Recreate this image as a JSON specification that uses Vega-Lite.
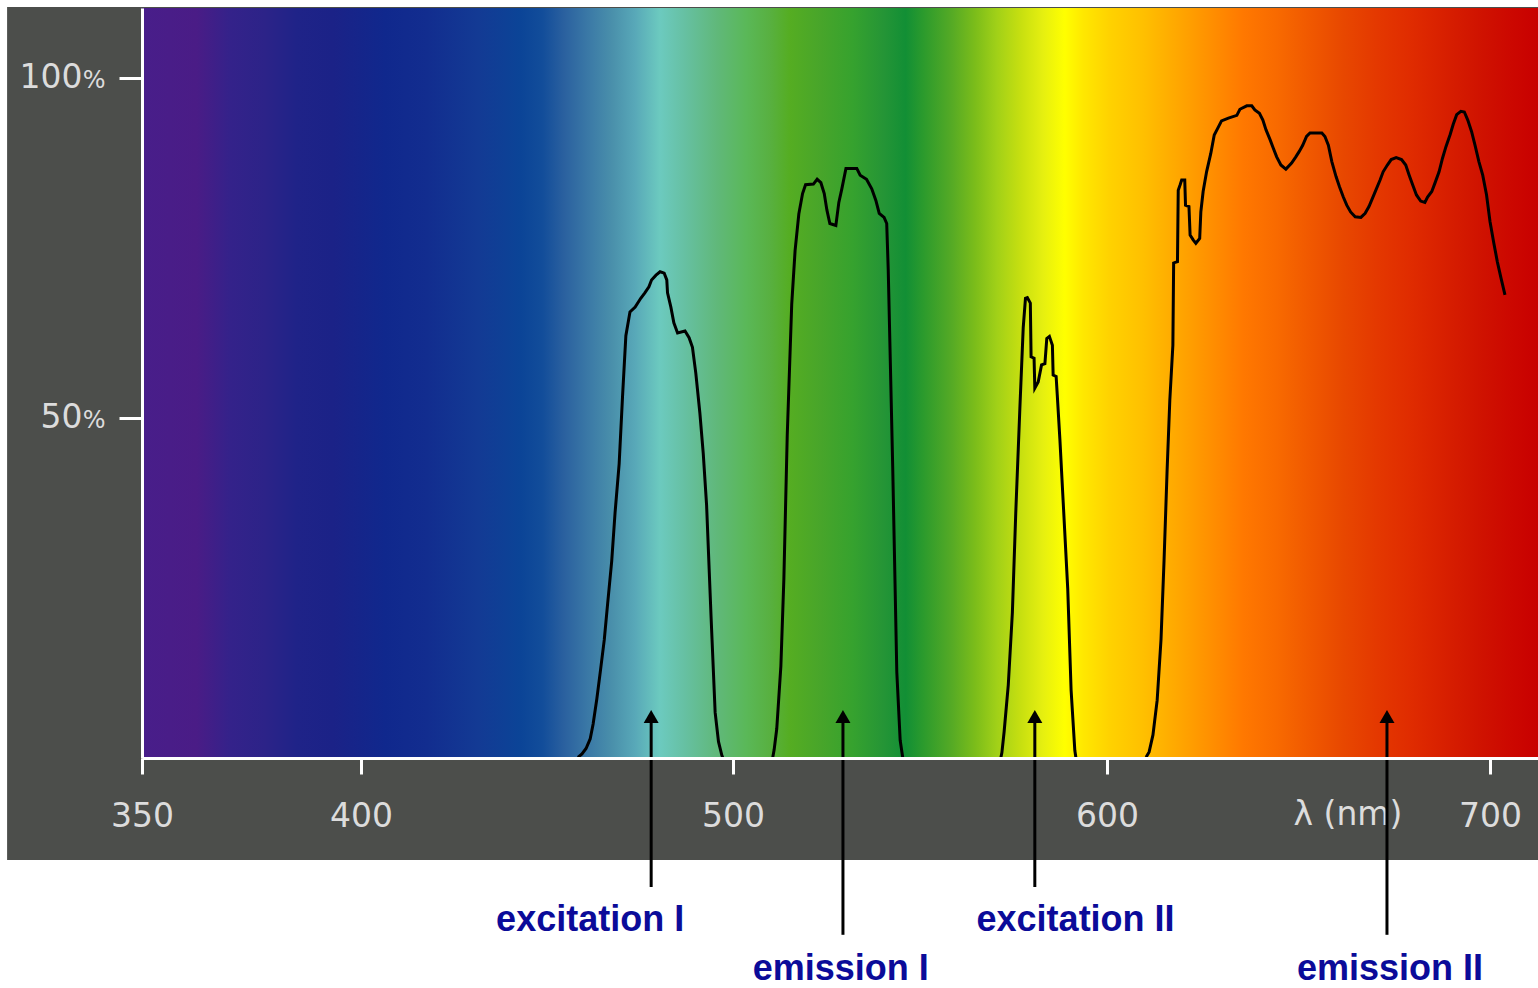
{
  "$schema": "https://vega.github.io/schema/vega-lite/v6.json",
  "width": 1396,
  "height": 750,
  "autosize": {"type": "none"},
  "padding": {"left": 142, "top": 8, "right": 0, "bottom": 230},
  "background": "white",
  "config": {
    "view": {"stroke": null},
    "axis": {"grid": false, "domainColor": "white", "domainWidth": 3, "tickColor": "white", "tickWidth": 3, "labelFont": "DejaVu Sans", "labelFontSize": 33, "labelColor": "#dcdcdc", "labelBaseline": "alphabetic"},
    "axisX": {"tickSize": 16, "labelPadding": 52, "labelFlush": false, "labelOverlap": false},
    "axisY": {"tickSize": 23, "labelOffset": 10, "labelPadding": 37, "labelAlign": "right"}
  },
  "datasets": {
    "curves": [
      {"series":"excitation I","wl":458.3,"pct":0.1},{"series":"excitation I","wl":459.4,"pct":0.6},{"series":"excitation I","wl":460.5,"pct":1.4},{"series":"excitation I","wl":461.6,"pct":2.8},{"series":"excitation I","wl":462.4,"pct":5.0},{"series":"excitation I","wl":463.4,"pct":8.7},{"series":"excitation I","wl":464.4,"pct":13.0},{"series":"excitation I","wl":465.4,"pct":17.4},{"series":"excitation I","wl":466.3,"pct":22.7},{"series":"excitation I","wl":467.4,"pct":29.0},{"series":"excitation I","wl":468.3,"pct":36.1},{"series":"excitation I","wl":469.4,"pct":43.3},{"series":"excitation I","wl":470.3,"pct":53.1},{"series":"excitation I","wl":471.2,"pct":62.1},{"series":"excitation I","wl":472.3,"pct":65.6},{"series":"excitation I","wl":473.7,"pct":66.3},{"series":"excitation I","wl":475.2,"pct":67.6},{"series":"excitation I","wl":476.3,"pct":68.4},{"series":"excitation I","wl":477.4,"pct":69.3},{"series":"excitation I","wl":478.1,"pct":70.3},{"series":"excitation I","wl":479.3,"pct":71.0},{"series":"excitation I","wl":480.4,"pct":71.5},{"series":"excitation I","wl":481.5,"pct":71.3},{"series":"excitation I","wl":482.2,"pct":70.3},{"series":"excitation I","wl":482.4,"pct":68.4},{"series":"excitation I","wl":483.3,"pct":66.3},{"series":"excitation I","wl":484.1,"pct":64.0},{"series":"excitation I","wl":485.1,"pct":62.5},{"series":"excitation I","wl":487.1,"pct":62.8},{"series":"excitation I","wl":488.2,"pct":61.8},{"series":"excitation I","wl":489.1,"pct":60.4},{"series":"excitation I","wl":490.0,"pct":56.6},{"series":"excitation I","wl":491.1,"pct":50.7},{"series":"excitation I","wl":492.0,"pct":44.8},{"series":"excitation I","wl":492.9,"pct":37.2},{"series":"excitation I","wl":494.1,"pct":20.8},{"series":"excitation I","wl":495.2,"pct":6.7},{"series":"excitation I","wl":496.1,"pct":2.4},{"series":"excitation I","wl":497.0,"pct":0.4},{"series":"excitation I","wl":497.3,"pct":0.0},
      {"series":"emission I","wl":510.6,"pct":0.0},{"series":"emission I","wl":511.0,"pct":1.2},{"series":"emission I","wl":511.7,"pct":4.3},{"series":"emission I","wl":512.8,"pct":13.5},{"series":"emission I","wl":513.6,"pct":26.3},{"series":"emission I","wl":514.5,"pct":47.4},{"series":"emission I","wl":515.7,"pct":66.7},{"series":"emission I","wl":516.6,"pct":74.6},{"series":"emission I","wl":517.6,"pct":80.0},{"series":"emission I","wl":518.6,"pct":83.0},{"series":"emission I","wl":519.4,"pct":84.3},{"series":"emission I","wl":521.5,"pct":84.4},{"series":"emission I","wl":522.5,"pct":85.1},{"series":"emission I","wl":523.5,"pct":84.6},{"series":"emission I","wl":524.4,"pct":83.0},{"series":"emission I","wl":525.1,"pct":80.6},{"series":"emission I","wl":525.9,"pct":78.6},{"series":"emission I","wl":527.5,"pct":78.3},{"series":"emission I","wl":528.3,"pct":81.7},{"series":"emission I","wl":529.1,"pct":83.7},{"series":"emission I","wl":530.2,"pct":86.7},{"series":"emission I","wl":533.1,"pct":86.7},{"series":"emission I","wl":534.0,"pct":85.7},{"series":"emission I","wl":535.7,"pct":85.1},{"series":"emission I","wl":537.1,"pct":83.7},{"series":"emission I","wl":538.2,"pct":82.0},{"series":"emission I","wl":539.1,"pct":80.1},{"series":"emission I","wl":540.4,"pct":79.5},{"series":"emission I","wl":541.1,"pct":78.6},{"series":"emission I","wl":541.5,"pct":71.9},{"series":"emission I","wl":542.7,"pct":42.9},{"series":"emission I","wl":543.8,"pct":12.6},{"series":"emission I","wl":544.7,"pct":2.6},{"series":"emission I","wl":545.4,"pct":0.0},
      {"series":"excitation II","wl":571.6,"pct":0.0},{"series":"excitation II","wl":571.9,"pct":0.8},{"series":"excitation II","wl":572.5,"pct":3.9},{"series":"excitation II","wl":573.6,"pct":10.7},{"series":"excitation II","wl":574.7,"pct":21.4},{"series":"excitation II","wl":575.6,"pct":36.0},{"series":"excitation II","wl":576.7,"pct":51.4},{"series":"excitation II","wl":577.6,"pct":63.3},{"series":"excitation II","wl":578.2,"pct":67.6},{"series":"excitation II","wl":578.7,"pct":67.7},{"series":"excitation II","wl":579.5,"pct":66.9},{"series":"excitation II","wl":579.7,"pct":59.0},{"series":"excitation II","wl":580.5,"pct":58.8},{"series":"excitation II","wl":580.7,"pct":54.4},{"series":"excitation II","wl":581.6,"pct":55.3},{"series":"excitation II","wl":582.5,"pct":57.8},{"series":"excitation II","wl":583.4,"pct":58.0},{"series":"excitation II","wl":583.9,"pct":61.7},{"series":"excitation II","wl":584.6,"pct":62.0},{"series":"excitation II","wl":585.4,"pct":60.7},{"series":"excitation II","wl":585.6,"pct":56.3},{"series":"excitation II","wl":586.4,"pct":56.1},{"series":"excitation II","wl":586.7,"pct":53.4},{"series":"excitation II","wl":587.4,"pct":46.9},{"series":"excitation II","wl":588.3,"pct":37.5},{"series":"excitation II","wl":589.5,"pct":24.9},{"series":"excitation II","wl":590.4,"pct":10.0},{"series":"excitation II","wl":591.4,"pct":1.1},{"series":"excitation II","wl":591.7,"pct":0.0},
      {"series":"emission II","wl":610.2,"pct":0.1},{"series":"emission II","wl":611.0,"pct":0.9},{"series":"emission II","wl":612.0,"pct":3.4},{"series":"emission II","wl":613.1,"pct":8.5},{"series":"emission II","wl":614.1,"pct":17.4},{"series":"emission II","wl":614.9,"pct":29.1},{"series":"emission II","wl":615.7,"pct":42.4},{"series":"emission II","wl":616.4,"pct":52.6},{"series":"emission II","wl":617.2,"pct":60.7},{"series":"emission II","wl":617.4,"pct":72.8},{"series":"emission II","wl":618.4,"pct":73.0},{"series":"emission II","wl":618.6,"pct":83.5},{"series":"emission II","wl":619.1,"pct":84.3},{"series":"emission II","wl":619.5,"pct":85.0},{"series":"emission II","wl":620.3,"pct":85.0},{"series":"emission II","wl":620.5,"pct":81.3},{"series":"emission II","wl":621.4,"pct":81.1},{"series":"emission II","wl":621.7,"pct":76.9},{"series":"emission II","wl":622.5,"pct":76.2},{"series":"emission II","wl":623.2,"pct":75.7},{"series":"emission II","wl":624.2,"pct":76.4},{"series":"emission II","wl":624.5,"pct":80.3},{"series":"emission II","wl":625.1,"pct":83.3},{"series":"emission II","wl":626.0,"pct":86.2},{"series":"emission II","wl":627.1,"pct":88.9},{"series":"emission II","wl":628.0,"pct":91.6},{"series":"emission II","wl":629.1,"pct":92.8},{"series":"emission II","wl":629.9,"pct":93.7},{"series":"emission II","wl":631.7,"pct":94.1},{"series":"emission II","wl":633.9,"pct":94.5},{"series":"emission II","wl":634.7,"pct":95.4},{"series":"emission II","wl":636.5,"pct":95.9},{"series":"emission II","wl":637.8,"pct":95.9},{"series":"emission II","wl":638.6,"pct":95.3},{"series":"emission II","wl":639.8,"pct":94.8},{"series":"emission II","wl":640.7,"pct":93.8},{"series":"emission II","wl":641.5,"pct":92.4},{"series":"emission II","wl":642.6,"pct":90.9},{"series":"emission II","wl":643.4,"pct":89.7},{"series":"emission II","wl":644.3,"pct":88.4},{"series":"emission II","wl":645.4,"pct":87.2},{"series":"emission II","wl":646.7,"pct":86.6},{"series":"emission II","wl":648.2,"pct":87.5},{"series":"emission II","wl":649.3,"pct":88.4},{"series":"emission II","wl":650.2,"pct":89.2},{"series":"emission II","wl":651.1,"pct":90.1},{"series":"emission II","wl":652.1,"pct":91.4},{"series":"emission II","wl":653.0,"pct":91.9},{"series":"emission II","wl":656.1,"pct":91.9},{"series":"emission II","wl":656.9,"pct":91.4},{"series":"emission II","wl":657.8,"pct":90.1},{"series":"emission II","wl":658.7,"pct":87.7},{"series":"emission II","wl":659.8,"pct":85.5},{"series":"emission II","wl":660.7,"pct":84.0},{"series":"emission II","wl":661.7,"pct":82.5},{"series":"emission II","wl":662.6,"pct":81.3},{"series":"emission II","wl":663.6,"pct":80.3},{"series":"emission II","wl":664.8,"pct":79.6},{"series":"emission II","wl":666.3,"pct":79.5},{"series":"emission II","wl":667.4,"pct":80.1},{"series":"emission II","wl":668.4,"pct":81.1},{"series":"emission II","wl":669.3,"pct":82.3},{"series":"emission II","wl":670.2,"pct":83.5},{"series":"emission II","wl":671.3,"pct":85.0},{"series":"emission II","wl":672.1,"pct":86.2},{"series":"emission II","wl":673.2,"pct":87.2},{"series":"emission II","wl":674.2,"pct":88.0},{"series":"emission II","wl":675.5,"pct":88.3},{"series":"emission II","wl":676.9,"pct":88.0},{"series":"emission II","wl":678.0,"pct":87.2},{"series":"emission II","wl":678.9,"pct":85.7},{"series":"emission II","wl":679.8,"pct":84.3},{"series":"emission II","wl":680.8,"pct":82.8},{"series":"emission II","wl":681.9,"pct":81.9},{"series":"emission II","wl":683.0,"pct":81.7},{"series":"emission II","wl":683.7,"pct":82.5},{"series":"emission II","wl":684.8,"pct":83.3},{"series":"emission II","wl":685.6,"pct":84.5},{"series":"emission II","wl":686.7,"pct":86.2},{"series":"emission II","wl":687.6,"pct":88.2},{"series":"emission II","wl":688.5,"pct":89.9},{"series":"emission II","wl":689.6,"pct":91.7},{"series":"emission II","wl":690.4,"pct":93.2},{"series":"emission II","wl":691.3,"pct":94.6},{"series":"emission II","wl":692.4,"pct":95.1},{"series":"emission II","wl":693.3,"pct":95.0},{"series":"emission II","wl":694.2,"pct":93.8},{"series":"emission II","wl":695.2,"pct":92.1},{"series":"emission II","wl":696.1,"pct":90.1},{"series":"emission II","wl":697.1,"pct":87.7},{"series":"emission II","wl":698.1,"pct":85.7},{"series":"emission II","wl":699.1,"pct":82.8},{"series":"emission II","wl":700.0,"pct":78.9},{"series":"emission II","wl":701.0,"pct":75.7},{"series":"emission II","wl":701.9,"pct":73.0},{"series":"emission II","wl":702.9,"pct":70.5},{"series":"emission II","wl":703.9,"pct":68.1}
    ],
    "filters": [
      {"name": "excitation I", "wl": 478.0, "labelWl": 461.6, "kind": "excitation"},
      {"name": "emission I", "wl": 529.4, "labelWl": 528.8, "kind": "emission"},
      {"name": "excitation II", "wl": 580.7, "labelWl": 591.6, "kind": "excitation"},
      {"name": "emission II", "wl": 673.1, "labelWl": 673.9, "kind": "emission"}
    ],
    "ticks": [{"pct": 50}, {"pct": 100}]
  },
  "layer": [
    {
      "data": {"values": [{}]},
      "mark": {"type": "rect", "fill": "#4c4e4b"},
      "encoding": {
        "x": {"datum": 319.2, "type": "quantitative", "title": null, "scale": {"domain": [350, 400, 500, 600, 700, 712.5], "range": [0, 219, 591, 965, 1348, 1396], "nice": false, "zero": false}, "axis": {"title": null, "orient": "bottom", "values": [350, 400, 500, 600, 700], "format": "d", "zindex": 2}},
        "x2": {"datum": 712.5},
        "y": {"datum": 110.45, "type": "quantitative", "title": null, "scale": {"domain": [0, 110.29], "nice": false, "zero": false}, "axis": {"title": null, "orient": "left", "values": [50, 100], "format": "d", "zindex": 2}},
        "y2": {"datum": -15.0}
      }
    },
    {
      "data": {"values": [{}]},
      "mark": {
        "type": "rect",
        "fill": {
          "gradient": "linear", "x1": 0, "y1": 0, "x2": 1, "y2": 0,
          "stops": [
            {"offset": 0, "color": "#481e8a"},
            {"offset": 0.039, "color": "#4a1c86"},
            {"offset": 0.063, "color": "#34228a"},
            {"offset": 0.088, "color": "#2c2388"},
            {"offset": 0.111, "color": "#1f2388"},
            {"offset": 0.137, "color": "#1b2287"},
            {"offset": 0.174, "color": "#10288d"},
            {"offset": 0.204, "color": "#122d8f"},
            {"offset": 0.241, "color": "#133a94"},
            {"offset": 0.271, "color": "#0b4497"},
            {"offset": 0.287, "color": "#124d9a"},
            {"offset": 0.302, "color": "#2a609f"},
            {"offset": 0.319, "color": "#3a78a6"},
            {"offset": 0.337, "color": "#4a90ab"},
            {"offset": 0.353, "color": "#58a8b8"},
            {"offset": 0.371, "color": "#6ccabf"},
            {"offset": 0.389, "color": "#66c0a2"},
            {"offset": 0.412, "color": "#60b87a"},
            {"offset": 0.433, "color": "#5ab858"},
            {"offset": 0.45, "color": "#58b040"},
            {"offset": 0.464, "color": "#55ad22"},
            {"offset": 0.486, "color": "#48a52a"},
            {"offset": 0.509, "color": "#36a22e"},
            {"offset": 0.531, "color": "#259536"},
            {"offset": 0.547, "color": "#128f35"},
            {"offset": 0.559, "color": "#2a9a2d"},
            {"offset": 0.58, "color": "#55aa25"},
            {"offset": 0.597, "color": "#7cbd1a"},
            {"offset": 0.612, "color": "#a0d018"},
            {"offset": 0.63, "color": "#c8e010"},
            {"offset": 0.645, "color": "#e5ef10"},
            {"offset": 0.661, "color": "#ffff00"},
            {"offset": 0.674, "color": "#ffe800"},
            {"offset": 0.693, "color": "#ffd200"},
            {"offset": 0.717, "color": "#ffc000"},
            {"offset": 0.741, "color": "#ffa800"},
            {"offset": 0.765, "color": "#ff9000"},
            {"offset": 0.789, "color": "#ff7800"},
            {"offset": 0.813, "color": "#f86a00"},
            {"offset": 0.837, "color": "#f05800"},
            {"offset": 0.86, "color": "#e84800"},
            {"offset": 0.885, "color": "#e43800"},
            {"offset": 0.908, "color": "#e02c00"},
            {"offset": 0.932, "color": "#d82000"},
            {"offset": 0.956, "color": "#d01400"},
            {"offset": 0.98, "color": "#cc0800"},
            {"offset": 1, "color": "#c80000"}
          ]
        }
      },
      "encoding": {
        "x": {"datum": 350, "type": "quantitative", "title": null, "scale": {"domain": [350, 400, 500, 600, 700, 712.5], "range": [0, 219, 591, 965, 1348, 1396], "nice": false, "zero": false}, "axis": {"title": null, "orient": "bottom", "values": [350, 400, 500, 600, 700], "format": "d", "zindex": 2}},
        "x2": {"datum": 712.5},
        "y": {"datum": 110.29, "type": "quantitative", "title": null, "scale": {"domain": [0, 110.29], "nice": false, "zero": false}, "axis": {"title": null, "orient": "left", "values": [50, 100], "format": "d", "zindex": 2}},
        "y2": {"datum": 0}
      }
    },
    {
      "data": {"name": "curves"},
      "mark": {"type": "line", "color": "black", "strokeWidth": 3},
      "encoding": {
        "x": {"field": "wl", "type": "quantitative", "title": null, "scale": {"domain": [350, 400, 500, 600, 700, 712.5], "range": [0, 219, 591, 965, 1348, 1396], "nice": false, "zero": false}, "axis": {"title": null, "orient": "bottom", "values": [350, 400, 500, 600, 700], "format": "d", "zindex": 2}},
        "y": {"field": "pct", "type": "quantitative", "title": null, "scale": {"domain": [0, 110.29], "nice": false, "zero": false}, "axis": {"title": null, "orient": "left", "values": [50, 100], "format": "d", "zindex": 2}},
        "detail": {"field": "series"}
      }
    },
    {
      "data": {"name": "ticks"},
      "mark": {"type": "text", "text": "%", "font": "DejaVu Sans", "fontSize": 24, "color": "#dcdcdc", "align": "left", "baseline": "alphabetic", "dy": 10},
      "encoding": {
        "x": {"datum": 336.5, "type": "quantitative", "title": null, "scale": {"domain": [350, 400, 500, 600, 700, 712.5], "range": [0, 219, 591, 965, 1348, 1396], "nice": false, "zero": false}, "axis": {"title": null, "orient": "bottom", "values": [350, 400, 500, 600, 700], "format": "d", "zindex": 2}},
        "y": {"field": "pct", "type": "quantitative", "title": null, "scale": {"domain": [0, 110.29], "nice": false, "zero": false}, "axis": {"title": null, "orient": "left", "values": [50, 100], "format": "d", "zindex": 2}}
      }
    },
    {
      "data": {"values": [{}]},
      "mark": {"type": "text", "text": "λ (nm)", "font": "DejaVu Sans", "fontSize": 33, "color": "#dcdcdc", "align": "center", "baseline": "alphabetic"},
      "encoding": {
        "x": {"datum": 662.9, "type": "quantitative", "title": null, "scale": {"domain": [350, 400, 500, 600, 700, 712.5], "range": [0, 219, 591, 965, 1348, 1396], "nice": false, "zero": false}, "axis": {"title": null, "orient": "bottom", "values": [350, 400, 500, 600, 700], "format": "d", "zindex": 2}},
        "y": {"datum": -9.85, "type": "quantitative", "title": null, "scale": {"domain": [0, 110.29], "nice": false, "zero": false}, "axis": {"title": null, "orient": "left", "values": [50, 100], "format": "d", "zindex": 2}}
      }
    },
    {
      "data": {"name": "filters"},
      "transform": [{"filter": "datum.kind === 'excitation'"}],
      "mark": {"type": "rule", "color": "black", "strokeWidth": 3},
      "encoding": {
        "x": {"field": "wl", "type": "quantitative", "title": null, "scale": {"domain": [350, 400, 500, 600, 700, 712.5], "range": [0, 219, 591, 965, 1348, 1396], "nice": false, "zero": false}, "axis": {"title": null, "orient": "bottom", "values": [350, 400, 500, 600, 700], "format": "d", "zindex": 2}},
        "y": {"datum": 6.0, "type": "quantitative", "title": null, "scale": {"domain": [0, 110.29], "nice": false, "zero": false}, "axis": {"title": null, "orient": "left", "values": [50, 100], "format": "d", "zindex": 2}},
        "y2": {"datum": -18.97}
      }
    },
    {
      "data": {"name": "filters"},
      "transform": [{"filter": "datum.kind === 'emission'"}],
      "mark": {"type": "rule", "color": "black", "strokeWidth": 3},
      "encoding": {
        "x": {"field": "wl", "type": "quantitative", "title": null, "scale": {"domain": [350, 400, 500, 600, 700, 712.5], "range": [0, 219, 591, 965, 1348, 1396], "nice": false, "zero": false}, "axis": {"title": null, "orient": "bottom", "values": [350, 400, 500, 600, 700], "format": "d", "zindex": 2}},
        "y": {"datum": 6.0, "type": "quantitative", "title": null, "scale": {"domain": [0, 110.29], "nice": false, "zero": false}, "axis": {"title": null, "orient": "left", "values": [50, 100], "format": "d", "zindex": 2}},
        "y2": {"datum": -26.0}
      }
    },
    {
      "data": {"name": "filters"},
      "mark": {"type": "point", "shape": "triangle-up", "size": 225, "filled": true, "color": "black", "opacity": 1, "strokeWidth": 0},
      "encoding": {
        "x": {"field": "wl", "type": "quantitative", "title": null, "scale": {"domain": [350, 400, 500, 600, 700, 712.5], "range": [0, 219, 591, 965, 1348, 1396], "nice": false, "zero": false}, "axis": {"title": null, "orient": "bottom", "values": [350, 400, 500, 600, 700], "format": "d", "zindex": 2}},
        "y": {"datum": 6.1, "type": "quantitative", "title": null, "scale": {"domain": [0, 110.29], "nice": false, "zero": false}, "axis": {"title": null, "orient": "left", "values": [50, 100], "format": "d", "zindex": 2}}
      }
    },
    {
      "data": {"name": "filters"},
      "transform": [{"filter": "datum.kind === 'excitation'"}],
      "mark": {"type": "text", "font": "Liberation Sans", "fontWeight": "bold", "fontSize": 36, "color": "#0b0b99", "align": "center", "baseline": "alphabetic"},
      "encoding": {
        "x": {"field": "labelWl", "type": "quantitative", "title": null, "scale": {"domain": [350, 400, 500, 600, 700, 712.5], "range": [0, 219, 591, 965, 1348, 1396], "nice": false, "zero": false}, "axis": {"title": null, "orient": "bottom", "values": [350, 400, 500, 600, 700], "format": "d", "zindex": 2}},
        "y": {"datum": -25.4, "type": "quantitative", "title": null, "scale": {"domain": [0, 110.29], "nice": false, "zero": false}, "axis": {"title": null, "orient": "left", "values": [50, 100], "format": "d", "zindex": 2}},
        "text": {"field": "name"}
      }
    },
    {
      "data": {"name": "filters"},
      "transform": [{"filter": "datum.kind === 'emission'"}],
      "mark": {"type": "text", "font": "Liberation Sans", "fontWeight": "bold", "fontSize": 36, "color": "#0b0b99", "align": "center", "baseline": "alphabetic"},
      "encoding": {
        "x": {"field": "labelWl", "type": "quantitative", "title": null, "scale": {"domain": [350, 400, 500, 600, 700, 712.5], "range": [0, 219, 591, 965, 1348, 1396], "nice": false, "zero": false}, "axis": {"title": null, "orient": "bottom", "values": [350, 400, 500, 600, 700], "format": "d", "zindex": 2}},
        "y": {"datum": -32.6, "type": "quantitative", "title": null, "scale": {"domain": [0, 110.29], "nice": false, "zero": false}, "axis": {"title": null, "orient": "left", "values": [50, 100], "format": "d", "zindex": 2}},
        "text": {"field": "name"}
      }
    }
  ]
}
